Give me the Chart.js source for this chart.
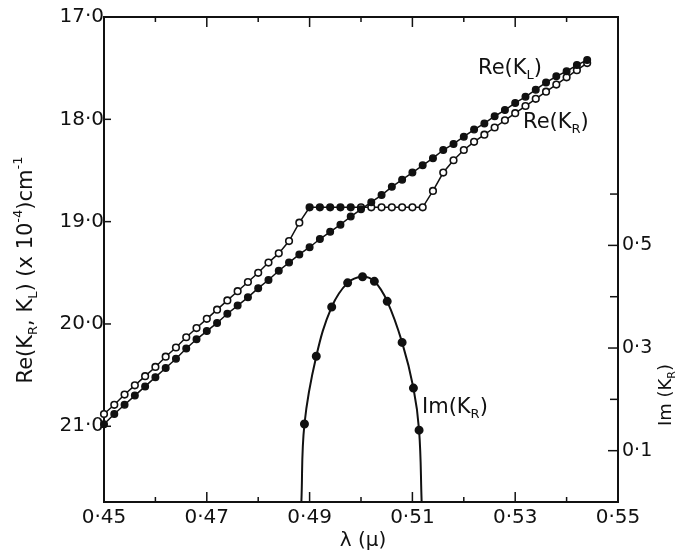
<!DOCTYPE html>
<html>
<head>
<meta charset="utf-8">
<script src="https://cdn.jsdelivr.net/npm/chart.js@4.4.1/dist/chart.umd.min.js"></script>
<style>
  body { margin: 0; background: #fff; }
  #plot { display: block; }
</style>
</head>
<body>
<canvas id="plot" width="679" height="554"></canvas>
<script>
// wavelength (micron) of the Re markers
const lambda = [
    0.450, 0.452, 0.454, 0.456, 0.458, 0.460, 0.462, 0.464, 0.466, 0.468,
    0.470, 0.472, 0.474, 0.476, 0.478, 0.480, 0.482, 0.484, 0.486, 0.488,
    0.490, 0.492, 0.494, 0.496, 0.498, 0.500, 0.502, 0.504, 0.506, 0.508,
    0.510, 0.512, 0.514, 0.516, 0.518, 0.520, 0.522, 0.524, 0.526, 0.528,
    0.530, 0.532, 0.534, 0.536, 0.538, 0.540, 0.542, 0.544
];
// Re(K_L) x10^-4 cm^-1
const reKL = [
    20.98, 20.88, 20.79, 20.70, 20.61, 20.52, 20.43, 20.34, 20.24, 20.15,
    20.07, 19.99, 19.90, 19.82, 19.74, 19.65, 19.57, 19.48, 19.40, 19.32,
    19.25, 19.17, 19.10, 19.03, 18.95, 18.88, 18.81, 18.74, 18.66, 18.59,
    18.52, 18.45, 18.38, 18.30, 18.24, 18.17, 18.10, 18.04, 17.97, 17.91,
    17.84, 17.78, 17.71, 17.64, 17.58, 17.53, 17.47, 17.42
];
// Re(K_R), flat part between 0.490 and 0.512
const reKR = [
    20.88, 20.79, 20.69, 20.60, 20.51, 20.42, 20.32, 20.23, 20.13, 20.04,
    19.95, 19.86, 19.77, 19.68, 19.59, 19.50, 19.40, 19.31, 19.19, 19.01,
    18.86, 18.86, 18.86, 18.86, 18.86, 18.86, 18.86, 18.86, 18.86, 18.86,
    18.86, 18.86, 18.70, 18.52, 18.40, 18.30, 18.22, 18.15, 18.08, 18.01,
    17.94, 17.87, 17.80, 17.73, 17.66, 17.59, 17.52, 17.45
];
// Im(K_R) on the right axis
const imLambda = [0.4884, 0.4890, 0.4913, 0.4943, 0.4974, 0.5003, 0.5026, 0.5051, 0.5080, 0.5102, 0.5113, 0.5118];
const imKR = [0, 0.152, 0.284, 0.380, 0.427, 0.439, 0.430, 0.391, 0.311, 0.222, 0.140, 0];

// tick labels
const xLabelTicks = [0.45, 0.47, 0.49, 0.51, 0.53, 0.55];
const leftLabelTicks = [17, 18, 19, 20, 21];
const rightLabelTicks = [0.1, 0.3, 0.5];

const INK = '#111';
const FONT = '"DejaVu Sans", sans-serif';

const near = (v, list) => list.some(t => Math.abs(t - v) < 1e-6);
const dotted = v => v.toFixed(v < 1 ? (near(v, rightLabelTicks) ? 1 : 2) : 1).replace('.', '\u00b7');

// text with sub/superscripts: parts = [[text, 'sub'|'sup'|''], ...]
function drawRich(ctx, parts, x, y, size, align) {
    const fontFor = m => (m ? Math.round(size * 0.62) : size) + 'px ' + FONT;
    let total = 0;
    parts.forEach(([t, m]) => { ctx.font = fontFor(m); total += ctx.measureText(t).width; });
    let cx = align === 'center' ? x - total / 2 : x;
    parts.forEach(([t, m]) => {
        ctx.font = fontFor(m);
        const dy = m === 'sub' ? size * 0.25 : (m === 'sup' ? -size * 0.45 : 0);
        ctx.fillText(t, cx, y + dy);
        cx += ctx.measureText(t).width;
    });
}

const innerTicks = {
    id: 'innerTicks',
    afterDraw(chart) {
        const { ctx, chartArea: a, scales } = chart;
        ctx.save();
        ctx.strokeStyle = INK;
        ctx.lineWidth = 1.5;
        const seg = (x1, y1, x2, y2) => { ctx.beginPath(); ctx.moveTo(x1, y1); ctx.lineTo(x2, y2); ctx.stroke(); };
        scales.x.ticks.forEach(t => {
            const px = scales.x.getPixelForValue(t.value);
            if (px < a.left + 2 || px > a.right - 2) return;
            const len = near(t.value, xLabelTicks) ? 10 : 5;
            seg(px, a.bottom, px, a.bottom - len);
            seg(px, a.top, px, a.top + len);
        });
        scales.y.ticks.forEach(t => {
            if (t.value <= 17) return;
            const py = scales.y.getPixelForValue(t.value);
            seg(a.left, py, a.left + 7, py);
        });
        scales.y2.ticks.forEach(t => {
            if (t.value < 0.05 || t.value > 0.65) return;
            const py = scales.y2.getPixelForValue(t.value);
            seg(a.right, py, a.right - (near(t.value, rightLabelTicks) ? 10 : 8), py);
        });
        ctx.restore();
    }
};

const textLabels = {
    id: 'textLabels',
    afterDraw(chart) {
        const ctx = chart.ctx;
        ctx.save();
        ctx.fillStyle = INK;
        ctx.textBaseline = 'alphabetic';

        // left axis title
        ctx.save();
        ctx.translate(24, 270);
        ctx.rotate(-Math.PI / 2);
        drawRich(ctx, [['Re(K', ''], ['R', 'sub'], [', K', ''], ['L', 'sub'], [') (x 10', ''], ['-4', 'sup'], [')cm', ''], ['-1', 'sup']], 0, 7.5, 21, 'center');
        ctx.restore();

        // right axis title
        ctx.save();
        ctx.translate(664, 395);
        ctx.rotate(-Math.PI / 2);
        drawRich(ctx, [['Im (K', ''], ['R', 'sub'], [')', '']], 0, 6.5, 18, 'center');
        ctx.restore();

        // x axis title
        drawRich(ctx, [['\u03bb (\u03bc)', '']], 363, 546, 20, 'center');

        // curve labels
        drawRich(ctx, [['Re(K', ''], ['L', 'sub'], [')', '']], 478, 74, 21, 'left');
        drawRich(ctx, [['Re(K', ''], ['R', 'sub'], [')', '']], 523, 128, 21, 'left');
        drawRich(ctx, [['Im(K', ''], ['R', 'sub'], [')', '']], 422, 413, 21, 'left');
        ctx.restore();
    }
};

const frameGrid = { display: true, drawOnChartArea: false, drawTicks: false };
const frameBorder = { display: true, color: INK, width: 2 };
const tickFont = { family: FONT, size: 20 };

new Chart(document.getElementById('plot'), {
    type: 'line',
    data: {
        datasets: [
            {
                label: 'Re(K_L)',
                data: lambda.map((x, i) => ({ x: x, y: reKL[i] })),
                xAxisID: 'x', yAxisID: 'y',
                borderColor: INK, borderWidth: 1.5,
                pointRadius: 3.3, pointBorderWidth: 1.4,
                pointBackgroundColor: INK, pointBorderColor: INK,
                clip: 5
            },
            {
                label: 'Re(K_R)',
                data: lambda.map((x, i) => ({ x: x, y: reKR[i] })),
                xAxisID: 'x', yAxisID: 'y',
                borderColor: INK, borderWidth: 1.5,
                pointRadius: 3.3, pointBorderWidth: 1.6,
                pointBorderColor: INK,
                pointBackgroundColor: c => {
                    const v = c.raw ? c.raw.x : 0;
                    return (v > 0.489 && v < 0.4985) ? INK : '#fff';
                },
                clip: 5
            },
            {
                label: 'Im(K_R)',
                data: imLambda.map((x, i) => ({ x: x, y: imKR[i] })),
                xAxisID: 'x', yAxisID: 'y2',
                borderColor: INK, borderWidth: 2,
                tension: 0.4,
                pointRadius: c => (c.raw && c.raw.y === 0 ? 0 : 3.5),
                pointBackgroundColor: INK, pointBorderColor: INK
            }
        ]
    },
    options: {
        responsive: false,
        devicePixelRatio: 1,
        animation: false,
        events: [],
        layout: { padding: 0 },
        plugins: { legend: { display: false }, tooltip: { enabled: false } },
        scales: {
            x: {
                type: 'linear', position: 'bottom', min: 0.45, max: 0.55,
                grid: frameGrid, border: frameBorder,
                ticks: {
                    stepSize: 0.01, autoSkip: false, maxRotation: 0, includeBounds: false,
                    color: INK, font: tickFont, padding: 4,
                    callback: v => near(v, xLabelTicks) ? dotted(v) : ''
                },
                afterFit: s => { s.height = 52; }
            },
            xTop: {
                type: 'linear', position: 'top', min: 0.45, max: 0.55,
                grid: frameGrid, border: frameBorder,
                ticks: { display: false },
                afterFit: s => { s.height = 17; }
            },
            y: {
                type: 'linear', position: 'left', reverse: true, min: 17, max: 21.74,
                grid: frameGrid, border: frameBorder,
                ticks: {
                    stepSize: 1, includeBounds: false, color: INK, font: tickFont, padding: 0,
                    callback: v => near(v, leftLabelTicks) ? dotted(v) : ''
                },
                afterFit: s => { s.width = 104; }
            },
            y2: {
                type: 'linear', position: 'right', min: 0, max: 0.945,
                grid: frameGrid, border: frameBorder,
                ticks: {
                    stepSize: 0.1, includeBounds: false, color: INK, font: { family: FONT, size: 19 }, padding: 4,
                    callback: v => near(v, rightLabelTicks) ? dotted(v) : ''
                },
                afterFit: s => { s.width = 61; }
            }
        }
    },
    plugins: [innerTicks, textLabels]
});
</script>
</body>
</html>
